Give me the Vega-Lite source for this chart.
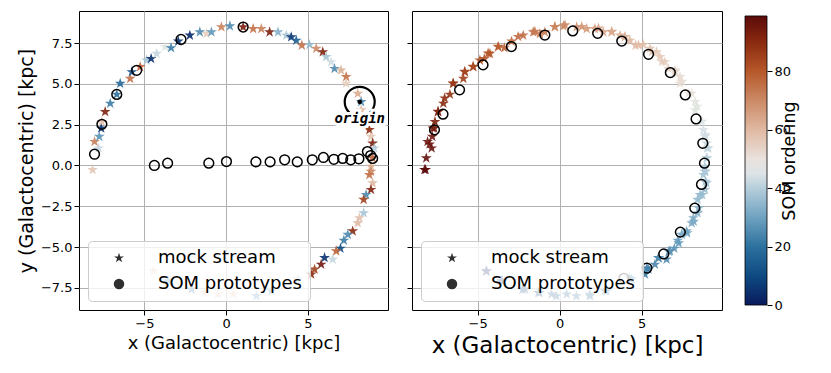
{
  "$schema": "https://vega.github.io/schema/vega-lite/v6.json",
  "padding": {"left": 16, "top": 10, "right": 5, "bottom": 5},
  "config": {
    "font": "DejaVu Sans",
    "view": {"stroke": "black", "strokeWidth": 1},
    "axis": {"grid": true, "gridColor": "#b0b0b0", "domain": false, "tickColor": "black", "labelFontSize": 13, "labelColor": "black", "titleColor": "black", "titleFontWeight": "normal"}
  },
  "hconcat": [
    {
      "hconcat": [
        {
          "width": 309, "height": 299,
          "layer": [
            {
              "data": {"values": [
                {"x": -8.17, "y": -0.26, "o": 57}, {"x": -7.8, "y": 1.06, "o": 42}, {"x": -8.05, "y": 1.46, "o": 72}, {"x": -7.76, "y": 1.77, "o": 27},
                {"x": -7.64, "y": 2.28, "o": 5}, {"x": -7.6, "y": 2.68, "o": 58}, {"x": -7.4, "y": 3.29, "o": 92}, {"x": -7.09, "y": 3.8, "o": 22},
                {"x": -6.69, "y": 4.35, "o": 20}, {"x": -6.48, "y": 5.02, "o": 18}, {"x": -5.87, "y": 5.32, "o": 75}, {"x": -5.77, "y": 5.73, "o": 12},
                {"x": -5.26, "y": 6.04, "o": 78}, {"x": -4.86, "y": 6.44, "o": 38}, {"x": -4.59, "y": 6.54, "o": 4}, {"x": -4.25, "y": 6.85, "o": 42},
                {"x": -3.74, "y": 7.26, "o": 47}, {"x": -3.37, "y": 7.2, "o": 22}, {"x": -2.93, "y": 7.6, "o": 5}, {"x": -2.22, "y": 7.97, "o": 3},
                {"x": -1.61, "y": 8.17, "o": 25}, {"x": -1.2, "y": 8.07, "o": 55}, {"x": -0.9, "y": 8.17, "o": 28}, {"x": -0.29, "y": 8.48, "o": 72},
                {"x": 0.23, "y": 8.54, "o": 25}, {"x": 1.04, "y": 8.48, "o": 93}, {"x": 1.65, "y": 8.37, "o": 75}, {"x": 2.15, "y": 8.37, "o": 72},
                {"x": 2.66, "y": 8.17, "o": 93}, {"x": 3.17, "y": 8.17, "o": 33}, {"x": 3.68, "y": 7.97, "o": 38}, {"x": 3.98, "y": 7.87, "o": 5},
                {"x": 4.29, "y": 7.66, "o": 15}, {"x": 4.63, "y": 7.36, "o": 75}, {"x": 5.1, "y": 7.4, "o": 35}, {"x": 5.51, "y": 7.16, "o": 70},
                {"x": 5.91, "y": 6.95, "o": 92}, {"x": 6.12, "y": 6.65, "o": 38}, {"x": 6.42, "y": 6.34, "o": 43}, {"x": 6.63, "y": 5.93, "o": 25},
                {"x": 7.03, "y": 5.83, "o": 62}, {"x": 7.34, "y": 5.43, "o": 75}, {"x": 7.34, "y": 5.02, "o": 55}, {"x": 8.05, "y": 4.41, "o": 63},
                {"x": 8.26, "y": 3.9, "o": 25}, {"x": 8.26, "y": 3.4, "o": 60}, {"x": 8.76, "y": 2.18, "o": 90}, {"x": 8.86, "y": 1.77, "o": 57},
                {"x": 8.96, "y": 1.36, "o": 93}, {"x": 9.06, "y": 1.06, "o": 40}, {"x": 8.96, "y": 0.45, "o": 78}, {"x": 8.86, "y": -0.06, "o": 62},
                {"x": 8.86, "y": -0.37, "o": 70}, {"x": 8.76, "y": -0.57, "o": 75}, {"x": 8.96, "y": -1.08, "o": 60}, {"x": 8.86, "y": -1.48, "o": 92},
                {"x": 8.56, "y": -1.79, "o": 25}, {"x": 8.41, "y": -2.09, "o": 85}, {"x": 8.41, "y": -2.91, "o": 38}, {"x": 8.15, "y": -3.21, "o": 58},
                {"x": 8.05, "y": -3.52, "o": 60}, {"x": 7.74, "y": -4.02, "o": 90}, {"x": 7.44, "y": -4.23, "o": 25}, {"x": 7.2, "y": -4.59, "o": 22},
                {"x": 6.99, "y": -5.08, "o": 10}, {"x": 6.73, "y": -5.24, "o": 78}, {"x": 6.52, "y": -5.75, "o": 42}, {"x": 6.02, "y": -5.65, "o": 5},
                {"x": 5.81, "y": -6.06, "o": 95}, {"x": 5.41, "y": -6.36, "o": 85}, {"x": 5.2, "y": -6.66, "o": 90}, {"x": 4.39, "y": -6.97, "o": 38},
                {"x": 2.76, "y": -7.68, "o": 22}, {"x": 1.85, "y": -7.99, "o": 25}, {"x": 0.43, "y": -7.88, "o": 60}, {"x": -0.49, "y": -7.88, "o": 60},
                {"x": -1.3, "y": -7.79, "o": 58}, {"x": -2.11, "y": -7.58, "o": 20}, {"x": -3.54, "y": -7.07, "o": 22}, {"x": -4.45, "y": -6.46, "o": 58}
              ]},
              "mark": {"type": "point", "filled": true, "size": 130, "opacity": 0.9},
              "encoding": {
                "x": {"field": "x", "type": "quantitative", "scale": {"domain": [-9.0, 9.9], "nice": false, "zero": false}, "axis": {"values": [-5, 0, 5], "title": "x (Galactocentric) [kpc]", "titleFontSize": 18}},
                "y": {"field": "y", "type": "quantitative", "scale": {"domain": [-8.85, 9.46], "nice": false, "zero": false}, "axis": {"values": [-7.5, -5, -2.5, 0, 2.5, 5, 7.5], "format": ".1f", "title": "y (Galactocentric) [kpc]", "titleFontSize": 19}},
                "color": {"field": "o", "type": "quantitative", "scale": {"domain": [0, 10, 20, 30, 40, 45, 50, 60, 70, 80, 90, 99], "range": ["#0a1a5c", "#0e4a82", "#2c719e", "#6fa2c0", "#b5cedb", "#dde3e6", "#e9e2dd", "#e0b9a2", "#cc8a66", "#b6582a", "#8a2a10", "#5c0a0a"]}, "legend": null},
                "shape": {"datum": "mock stream", "type": "nominal", "scale": {"domain": ["mock stream", "SOM prototypes"], "range": ["M0,-1L0.2245,-0.309L0.951,-0.309L0.363,0.118L0.588,0.809L0,0.382L-0.588,0.809L-0.363,0.118L-0.951,-0.309L-0.2245,-0.309Z", "circle"]},
                  "legend": {"title": null, "orient": "bottom-left", "offset": 9, "padding": 8, "fillColor": "rgba(255,255,255,0.8)", "strokeColor": "#cccccc", "cornerRadius": 4, "labelFontSize": 18, "labelColor": "black", "symbolSize": 110, "rowPadding": 8, "labelOffset": 30, "symbolOffset": 14, "labelLimit": 300,
                    "encode": {"symbols": {"fill": {"condition": {"test": "datum.value === 'mock stream'", "value": "#0a1a5c"}, "value": "transparent"}, "stroke": {"condition": {"test": "datum.value === 'mock stream'", "value": "transparent"}, "value": "black"}, "strokeWidth": {"value": 1.5}, "opacity": {"value": 1}}}}}
              }
            },
            {
              "data": {"values": [
                {"x": -8.05, "y": 0.69}, {"x": -7.6, "y": 2.52}, {"x": -6.69, "y": 4.35}, {"x": -5.47, "y": 5.83}, {"x": -2.76, "y": 7.72},
                {"x": 1.04, "y": 8.48}, {"x": -4.39, "y": 0.0}, {"x": -3.58, "y": 0.14}, {"x": -1.06, "y": 0.14}, {"x": 0.02, "y": 0.24},
                {"x": 1.82, "y": 0.22}, {"x": 2.69, "y": 0.22}, {"x": 3.58, "y": 0.35}, {"x": 4.35, "y": 0.22}, {"x": 5.27, "y": 0.35},
                {"x": 5.95, "y": 0.49}, {"x": 6.59, "y": 0.38}, {"x": 7.13, "y": 0.43}, {"x": 7.62, "y": 0.35}, {"x": 8.12, "y": 0.41},
                {"x": 8.64, "y": 0.85}, {"x": 8.84, "y": 0.61}, {"x": 8.96, "y": 0.43}
              ]},
              "mark": {"type": "point", "filled": false, "size": 95, "color": "black", "strokeWidth": 1.5, "opacity": 1},
              "encoding": {"x": {"field": "x", "type": "quantitative"}, "y": {"field": "y", "type": "quantitative"}, "shape": {"datum": "SOM prototypes", "type": "nominal"}}
            },
            {
              "data": {"values": [{"x": 8.17, "y": 3.9, "label": "origin"}]},
              "mark": {"type": "point", "shape": "circle", "size": 900, "filled": false, "color": "black", "strokeWidth": 2.2, "opacity": 1},
              "encoding": {"x": {"field": "x", "type": "quantitative"}, "y": {"field": "y", "type": "quantitative"}}
            },
            {
              "data": {"values": [{"x": 8.17, "y": 3.9, "label": "origin"}]},
              "mark": {"type": "point", "shape": "circle", "size": 22, "filled": true, "color": "black", "opacity": 1},
              "encoding": {"x": {"field": "x", "type": "quantitative"}, "y": {"field": "y", "type": "quantitative"}}
            },
            {
              "data": {"values": [{"x": 8.17, "y": 3.9, "label": "origin"}]},
              "mark": {"type": "text", "dy": 17, "font": "DejaVu Sans Mono", "fontStyle": "italic", "fontWeight": "bold", "fontSize": 14, "fill": "white", "stroke": "white", "strokeWidth": 6},
              "encoding": {"x": {"field": "x", "type": "quantitative"}, "y": {"field": "y", "type": "quantitative"}, "text": {"field": "label"}}
            },
            {
              "data": {"values": [{"x": 8.17, "y": 3.9, "label": "origin"}]},
              "mark": {"type": "text", "dy": 17, "font": "DejaVu Sans Mono", "fontStyle": "italic", "fontWeight": "bold", "fontSize": 14, "color": "black"},
              "encoding": {"x": {"field": "x", "type": "quantitative"}, "y": {"field": "y", "type": "quantitative"}, "text": {"field": "label"}}
            }
          ]
        },
        {
          "width": 310, "height": 299,
          "layer": [
            {
              "data": {"values": [
                {"x": -8.17, "y": -0.26, "o": 99}, {"x": -7.8, "y": 1.06, "o": 96.2}, {"x": -8.05, "y": 1.46, "o": 95.7}, {"x": -7.76, "y": 1.77, "o": 95.1},
                {"x": -7.64, "y": 2.28, "o": 94}, {"x": -7.6, "y": 2.68, "o": 93.1}, {"x": -7.4, "y": 3.29, "o": 91.8}, {"x": -7.09, "y": 3.8, "o": 89.8},
                {"x": -6.69, "y": 4.35, "o": 88.3}, {"x": -6.48, "y": 5.02, "o": 86.8}, {"x": -5.87, "y": 5.32, "o": 85.5}, {"x": -5.77, "y": 5.73, "o": 84.6},
                {"x": -5.26, "y": 6.04, "o": 83.3}, {"x": -4.86, "y": 6.44, "o": 82}, {"x": -4.59, "y": 6.54, "o": 81.3}, {"x": -4.25, "y": 6.85, "o": 80.5},
                {"x": -3.74, "y": 7.26, "o": 78.9}, {"x": -3.37, "y": 7.2, "o": 78.3}, {"x": -2.93, "y": 7.6, "o": 77}, {"x": -2.22, "y": 7.97, "o": 75.2},
                {"x": -1.61, "y": 8.17, "o": 73.9}, {"x": -1.2, "y": 8.07, "o": 73}, {"x": -0.9, "y": 8.17, "o": 72.4}, {"x": -0.29, "y": 8.48, "o": 70.9},
                {"x": 0.23, "y": 8.54, "o": 69.8}, {"x": 1.04, "y": 8.48, "o": 68}, {"x": 1.65, "y": 8.37, "o": 66.7}, {"x": 2.15, "y": 8.37, "o": 65.6},
                {"x": 2.66, "y": 8.17, "o": 64.5}, {"x": 3.17, "y": 8.17, "o": 63.2}, {"x": 3.68, "y": 7.97, "o": 62.1}, {"x": 3.98, "y": 7.87, "o": 61.5},
                {"x": 4.29, "y": 7.66, "o": 60.6}, {"x": 4.63, "y": 7.36, "o": 59.7}, {"x": 5.1, "y": 7.4, "o": 58.6}, {"x": 5.51, "y": 7.16, "o": 57.5},
                {"x": 5.91, "y": 6.95, "o": 56.4}, {"x": 6.12, "y": 6.65, "o": 55.8}, {"x": 6.42, "y": 6.34, "o": 54.9}, {"x": 6.63, "y": 5.93, "o": 54},
                {"x": 7.03, "y": 5.83, "o": 53.4}, {"x": 7.34, "y": 5.43, "o": 52.3}, {"x": 7.34, "y": 5.02, "o": 51.4}, {"x": 8.05, "y": 4.41, "o": 49.7},
                {"x": 8.26, "y": 3.9, "o": 48.4}, {"x": 8.26, "y": 3.4, "o": 47.3}, {"x": 8.76, "y": 2.18, "o": 44.4}, {"x": 8.86, "y": 1.77, "o": 43.6},
                {"x": 8.96, "y": 1.36, "o": 42.7}, {"x": 9.06, "y": 1.06, "o": 41.8}, {"x": 8.96, "y": 0.45, "o": 40.5}, {"x": 8.86, "y": -0.06, "o": 39.4},
                {"x": 8.86, "y": -0.37, "o": 38.8}, {"x": 8.76, "y": -0.57, "o": 38.3}, {"x": 8.96, "y": -1.08, "o": 37.2}, {"x": 8.86, "y": -1.48, "o": 36.4},
                {"x": 8.56, "y": -1.79, "o": 35.7}, {"x": 8.41, "y": -2.09, "o": 35.1}, {"x": 8.41, "y": -2.91, "o": 33.1}, {"x": 8.15, "y": -3.21, "o": 32.4},
                {"x": 8.05, "y": -3.52, "o": 31.8}, {"x": 7.74, "y": -4.02, "o": 30.5}, {"x": 7.44, "y": -4.23, "o": 29.6}, {"x": 7.2, "y": -4.59, "o": 28.7},
                {"x": 6.99, "y": -5.08, "o": 27.4}, {"x": 6.73, "y": -5.24, "o": 26.8}, {"x": 6.52, "y": -5.75, "o": 25.7}, {"x": 6.02, "y": -5.65, "o": 25},
                {"x": 5.81, "y": -6.06, "o": 24.2}, {"x": 5.41, "y": -6.36, "o": 23.1}, {"x": 5.2, "y": -6.66, "o": 22.4}, {"x": 4.39, "y": -6.97, "o": 20.4},
                {"x": 2.76, "y": -7.68, "o": 16.5}, {"x": 1.85, "y": -7.99, "o": 14.5}, {"x": 0.43, "y": -7.88, "o": 11.5}, {"x": -0.49, "y": -7.88, "o": 9.3},
                {"x": -1.3, "y": -7.79, "o": 7.6}, {"x": -2.11, "y": -7.58, "o": 5.8}, {"x": -3.54, "y": -7.07, "o": 2.3}, {"x": -4.45, "y": -6.46, "o": 0.2},
                {"x": -8.24, "y": -0.26, "o": 99}, {"x": -8.13, "y": 0.45, "o": 97.4}, {"x": -7.93, "y": 1.3, "o": 95.5}, {"x": -7.73, "y": 2.28, "o": 93.3},
                {"x": -7.42, "y": 3.3, "o": 91}, {"x": -7.01, "y": 4.12, "o": 89}, {"x": -6.5, "y": 5.03, "o": 86.7}, {"x": -5.79, "y": 5.75, "o": 84.5},
                {"x": -5.28, "y": 6.06, "o": 83.2}, {"x": -4.36, "y": 6.87, "o": 80.5}, {"x": -3.75, "y": 7.28, "o": 78.9}, {"x": -2.53, "y": 7.89, "o": 76},
                {"x": -1.51, "y": 8.2, "o": 73.6}, {"x": -0.29, "y": 8.5, "o": 70.9}, {"x": 0.33, "y": 8.6, "o": 69.5}, {"x": 1.35, "y": 8.5, "o": 67.3},
                {"x": 2.37, "y": 8.4, "o": 65.1}, {"x": 3.18, "y": 8.2, "o": 63.3}, {"x": 3.99, "y": 7.89, "o": 61.4}, {"x": 4.81, "y": 7.38, "o": 59.2},
                {"x": 5.63, "y": 6.97, "o": 57.2}, {"x": 6.24, "y": 6.36, "o": 55.4}, {"x": 7.05, "y": 5.75, "o": 53.2}, {"x": 7.46, "y": 5.14, "o": 51.6},
                {"x": 7.87, "y": 4.42, "o": 49.8}, {"x": 8.38, "y": 3.61, "o": 47.7}, {"x": 8.69, "y": 2.69, "o": 45.5}, {"x": 8.89, "y": 1.88, "o": 43.7},
                {"x": 8.99, "y": 1.06, "o": 41.9}, {"x": 8.99, "y": 0.45, "o": 40.6}, {"x": 8.89, "y": -0.37, "o": 38.8}, {"x": 8.89, "y": -0.98, "o": 37.4},
                {"x": 8.69, "y": -1.79, "o": 35.6}, {"x": 8.48, "y": -2.61, "o": 33.8}, {"x": 8.18, "y": -3.43, "o": 31.9}, {"x": 7.77, "y": -4.14, "o": 30.1},
                {"x": 7.26, "y": -4.75, "o": 28.3}, {"x": 6.65, "y": -5.26, "o": 26.6}, {"x": 6.04, "y": -5.67, "o": 25}, {"x": 5.32, "y": -6.28, "o": 23},
                {"x": 4.28, "y": -6.9, "o": 20.3}, {"x": 2.86, "y": -7.7, "o": 16.8}, {"x": 1.84, "y": -7.9, "o": 14.5}, {"x": 1.02, "y": -8.0, "o": 12.7},
                {"x": -0.2, "y": -8.0, "o": 10}, {"x": -1.22, "y": -7.8, "o": 7.7}, {"x": -2.26, "y": -7.6, "o": 5.4}, {"x": -3.49, "y": -7.09, "o": 2.5},
                {"x": -4.48, "y": -6.48, "o": 0}
              ]},
              "mark": {"type": "point", "filled": true, "size": 130, "opacity": 0.9},
              "encoding": {
                "x": {"field": "x", "type": "quantitative", "scale": {"domain": [-9.0, 9.9], "nice": false, "zero": false}, "axis": {"values": [-5, 0, 5], "title": "x (Galactocentric) [kpc]", "titleFontSize": 23}},
                "y": {"field": "y", "type": "quantitative", "scale": {"domain": [-8.85, 9.46], "nice": false, "zero": false}, "axis": {"values": [-7.5, -5, -2.5, 0, 2.5, 5, 7.5], "labels": false, "title": null}},
                "color": {"field": "o", "type": "quantitative", "scale": {"domain": [0, 10, 20, 30, 40, 45, 50, 60, 70, 80, 90, 99], "range": ["#0a1a5c", "#0e4a82", "#2c719e", "#6fa2c0", "#b5cedb", "#dde3e6", "#e9e2dd", "#e0b9a2", "#cc8a66", "#b6582a", "#8a2a10", "#5c0a0a"]}, "legend": null},
                "shape": {"datum": "mock stream", "type": "nominal", "scale": {"domain": ["mock stream", "SOM prototypes"], "range": ["M0,-1L0.2245,-0.309L0.951,-0.309L0.363,0.118L0.588,0.809L0,0.382L-0.588,0.809L-0.363,0.118L-0.951,-0.309L-0.2245,-0.309Z", "circle"]},
                  "legend": {"title": null, "orient": "bottom-left", "offset": 9, "padding": 8, "fillColor": "rgba(255,255,255,0.8)", "strokeColor": "#cccccc", "cornerRadius": 4, "labelFontSize": 18, "labelColor": "black", "symbolSize": 110, "rowPadding": 8, "labelOffset": 30, "symbolOffset": 14, "labelLimit": 300,
                    "encode": {"symbols": {"fill": {"condition": {"test": "datum.value === 'mock stream'", "value": "#0a1a5c"}, "value": "transparent"}, "stroke": {"condition": {"test": "datum.value === 'mock stream'", "value": "transparent"}, "value": "black"}, "strokeWidth": {"value": 1.5}, "opacity": {"value": 1}}}}}
              }
            },
            {
              "data": {"values": [
                {"x": -7.63, "y": 2.18}, {"x": -7.11, "y": 3.14}, {"x": -6.1, "y": 4.63}, {"x": -4.67, "y": 6.16}, {"x": -2.94, "y": 7.28},
                {"x": -0.9, "y": 7.99}, {"x": 0.8, "y": 8.24}, {"x": 2.32, "y": 8.09}, {"x": 3.79, "y": 7.62}, {"x": 5.42, "y": 6.81},
                {"x": 6.75, "y": 5.69}, {"x": 7.66, "y": 4.32}, {"x": 8.32, "y": 2.85}, {"x": 8.73, "y": 1.36}, {"x": 8.83, "y": 0.14},
                {"x": 8.65, "y": -1.16}, {"x": 8.24, "y": -2.61}, {"x": 7.36, "y": -4.08}, {"x": 6.35, "y": -5.42}, {"x": 5.32, "y": -6.28},
                {"x": 3.92, "y": -6.91}
              ]},
              "mark": {"type": "point", "filled": false, "size": 95, "color": "black", "strokeWidth": 1.5, "opacity": 1},
              "encoding": {"x": {"field": "x", "type": "quantitative"}, "y": {"field": "y", "type": "quantitative"}, "shape": {"datum": "SOM prototypes", "type": "nominal"}}
            }
          ]
        }
      ],
      "spacing": 17,
      "resolve": {"scale": {"shape": "independent", "x": "independent", "y": "independent"}, "legend": {"shape": "independent"}}
    },
    {
      "width": 22, "height": 299,
      "view": {"stroke": null},
      "data": {"values": [{"lo": 0, "hi": 99}]},
      "mark": {"type": "rect", "stroke": "black", "strokeWidth": 0.8,
        "fill": {"gradient": "linear", "x1": 0, "y1": 1, "x2": 0, "y2": 0, "stops": [
          {"offset": 0, "color": "#0a1a5c"}, {"offset": 0.101, "color": "#0e4a82"}, {"offset": 0.202, "color": "#2c719e"}, {"offset": 0.303, "color": "#6fa2c0"},
          {"offset": 0.404, "color": "#b5cedb"}, {"offset": 0.455, "color": "#dde3e6"}, {"offset": 0.505, "color": "#e9e2dd"}, {"offset": 0.606, "color": "#e0b9a2"},
          {"offset": 0.707, "color": "#cc8a66"}, {"offset": 0.808, "color": "#b6582a"}, {"offset": 0.909, "color": "#8a2a10"}, {"offset": 1, "color": "#5c0a0a"}]}},
      "encoding": {
        "y": {"field": "lo", "type": "quantitative", "scale": {"domain": [-1.7, 100.7], "nice": false, "zero": false}, "axis": {"orient": "right", "values": [0, 20, 40, 60, 80], "grid": false, "title": "SOM ordering", "titleFontSize": 17.5, "titleAngle": 270, "titlePadding": 8}},
        "y2": {"field": "hi"}
      }
    }
  ],
  "spacing": 21,
  "resolve": {"scale": {"x": "independent", "y": "independent", "shape": "independent"}, "legend": {"shape": "independent"}}
}
